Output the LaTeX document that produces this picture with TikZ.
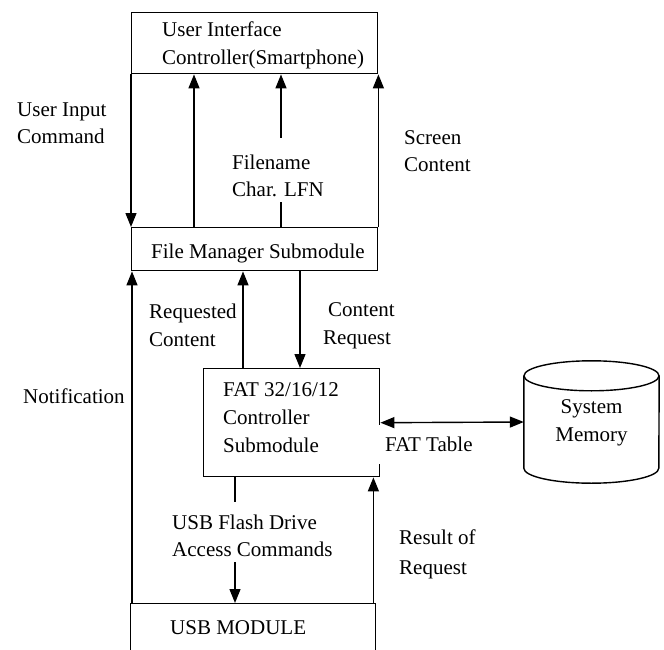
\documentclass[tikz,border=0pt]{standalone}
\usepackage{fontspec}
\setmainfont{Liberation Serif}
\usetikzlibrary{arrows.meta}
\begin{document}
\begin{tikzpicture}[x=1pt,y=-1pt,
  box/.style={draw, line width=1.4pt, rectangle, inner sep=0pt, anchor=north west},
  txt/.style={anchor=base west, inner sep=0pt, font=\fontsize{21}{27.5}\selectfont},
  ln/.style={line width=1.4pt},
  arr/.style={line width=1.4pt, -{Triangle[length=14pt,width=11pt]}},
  darr/.style={line width=1.4pt, {Triangle[length=14pt,width=11pt]}-{Triangle[length=14pt,width=11pt]}}]
\useasboundingbox (0,0) rectangle (664,650);
\clip (0,0) rectangle (664,650);
\fill[white] (0,0) rectangle (664,650);

% boxes
\node[box, minimum width=246pt, minimum height=61pt] (ui) at (131,12) {};
\node[box, minimum width=246pt, minimum height=43pt] (fm) at (131,227) {};
\node[box, minimum width=176pt, minimum height=108pt] (fat) at (203,368) {};
\node[box, minimum width=245pt, minimum height=80pt] (usb) at (130,603) {};
\node[minimum width=135pt, minimum height=122pt, inner sep=0pt] (mem) at (591.5,422) {};

% cylinder
\draw[ln] (mem.north) ++(0,15) ellipse [x radius=67.5, y radius=15];
\draw[ln] ([yshift=-15pt]mem.north west) -- ([yshift=15pt]mem.south west)
  arc[start angle=180, end angle=0, x radius=67.5, y radius=15]
  -- ([yshift=-15pt]mem.north east);

% texts in boxes
\node[txt] (ui1) at (162,36.5) {User Interface};
\node[txt] (ui2) at (162,64.5) {Controller(Smartphone)};
\node[txt] (fm1) at (151,258.5) {File Manager Submodule};
\node[txt] (fat1) at (223,396.5) {FAT 32/16/12};
\node[txt] (fat2) at (223,424.5) {Controller};
\node[txt] (fat3) at (223,452.5) {Submodule};
\node[txt, anchor=base] (mem1) at (591.5,413.5) {System};
\node[txt, anchor=base] (mem2) at (591.5,441.5) {Memory};
\node[txt] (usb1) at (170,634.5) {USB MODULE};

% labels
\node[txt] (l1) at (17,116.5) {User Input};
\node[txt] (l2) at (17,143.5) {Command};
\node[txt] (l3) at (232,169.5) {Filename};
\node[txt] (l4) at (232,196.5) {Char. LFN};
\node[txt] (l5) at (404,144.5) {Screen};
\node[txt] (l6) at (404,171.5) {Content};
\node[txt] (l7) at (149,318.5) {Requested};
\node[txt] (l8) at (149,346.5) {Content};
\node[txt] (l9) at (328,316.5) {Content};
\node[txt] (l10) at (323,344.5) {Request};
\node[txt] (l11) at (23,403.5) {Notification};
\node[txt, fill=white, inner xsep=8pt, inner ysep=12pt] (l12) at (377,451.5) {FAT Table};
\node[txt] (l13) at (172,529.5) {USB Flash Drive};
\node[txt] (l14) at (172,556.5) {Access Commands};
\node[txt] (l15) at (399,544.5) {Result of};
\node[txt] (l16) at (399,574.5) {Request};

% connectors
\coordinate (fnA) at (281,138);
\coordinate (fnB) at (281,202);
\coordinate (ufA) at (235,502);
\coordinate (ufB) at (235,562);

\draw[arr] (ui.south west) -- (fm.north west);
\draw[arr] ([xshift=63pt]fm.north west) -- ([xshift=63pt]ui.south west);
\draw[arr] (fnA) -- (fnA |- ui.south);
\draw[ln] (fnB |- fm.north) -- (fnB);
\draw[arr] (fm.north east) -- (ui.south east);

\draw[arr] ([xshift=2pt]usb.north west) -- ([xshift=2pt]usb.north west |- fm.south);
\draw[arr] ([xshift=40pt]fat.north west) -- ([xshift=40pt]fat.north west |- fm.south);
\draw[arr] ([xshift=97pt]fat.north west |- fm.south) -- ([xshift=97pt]fat.north west);

\draw[darr] (fat.east) -- (mem.west);

\draw[ln] (ufA |- fat.south) -- (ufA);
\draw[arr] (ufB) -- (ufB |- usb.north);
\draw[arr] ([xshift=-3pt]usb.north east) -- ([xshift=-3pt]usb.north east |- fat.south);
\end{tikzpicture}
\end{document}
